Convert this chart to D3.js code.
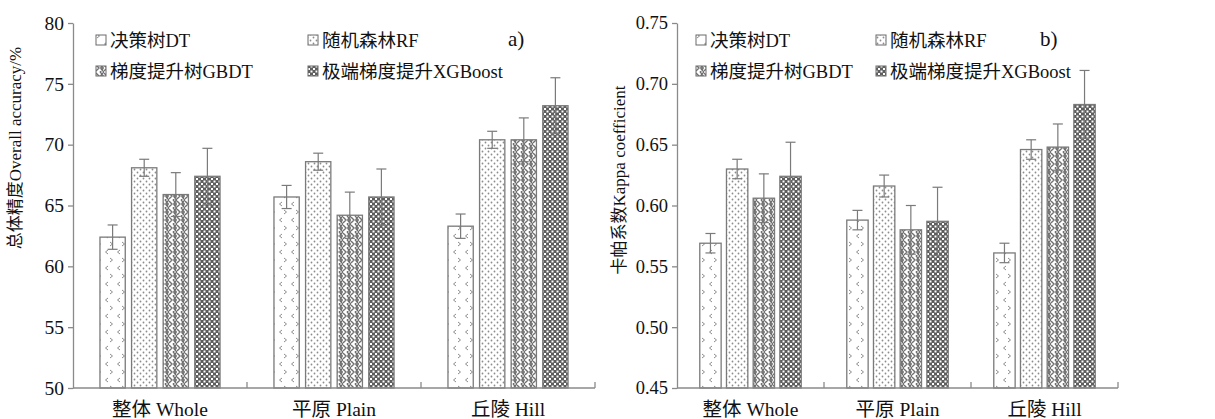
<!DOCTYPE html>
<html>
<head>
<meta charset="utf-8">
<script src="https://cdn.jsdelivr.net/npm/d3@7"></script>
<style>
  body { margin: 0; background: #fff; }
  svg { display: block; font-family: "Liberation Serif", "Noto Sans CJK SC", serif; }
</style>
</head>
<body>
<div id="chart"></div>
<script>
// categories and series
var categories = ["整体 Whole", "平原 Plain", "丘陵 Hill"];
var series = ["决策树DT", "随机森林RF", "梯度提升树GBDT", "极端梯度提升XGBoost"];

// panel a) overall accuracy (%), per series across categories
var accDT = [62.4, 65.7, 63.3];
var accRF = [68.1, 68.6, 70.4];
var accGBDT = [65.9, 64.2, 70.4];
var accXGB = [67.4, 65.7, 73.2];
var accErrDT = [1.0, 0.95, 1.0];
var accErrRF = [0.7, 0.7, 0.7];
var accErrGBDT = [1.8, 1.9, 1.8];
var accErrXGB = [2.3, 2.3, 2.3];
var accTicks = [50, 55, 60, 65, 70, 75, 80];

// panel b) kappa coefficient
var kapDT = [0.569, 0.588, 0.561];
var kapRF = [0.630, 0.616, 0.646];
var kapGBDT = [0.606, 0.580, 0.648];
var kapXGB = [0.624, 0.587, 0.683];
var kapErrDT = [0.008, 0.008, 0.008];
var kapErrRF = [0.008, 0.009, 0.008];
var kapErrGBDT = [0.020, 0.020, 0.019];
var kapErrXGB = [0.028, 0.028, 0.028];
var kapTicks = [0.45, 0.50, 0.55, 0.60, 0.65, 0.70, 0.75];

var width = 1215, height = 419;
var svg = d3.select("#chart").append("svg")
    .attr("width", width).attr("height", height);

var axisColor = "#8a8a8a";
var barStroke = "#7a7a7a";

// ---- patterns ----
var defs = svg.append("defs");

var pDT = defs.append("pattern").attr("id", "pat0")
    .attr("patternUnits", "userSpaceOnUse").attr("width", 12).attr("height", 16);
pDT.append("rect").attr("width", 12).attr("height", 16).attr("fill", "#fff");
pDT.append("path").attr("d", "M1,2 L3.5,4 L1,6 M11,10 L8.5,12 L11,14")
    .attr("fill", "none").attr("stroke", "#8c8c8c").attr("stroke-width", 1);

var pRF = defs.append("pattern").attr("id", "pat1")
    .attr("patternUnits", "userSpaceOnUse").attr("width", 6).attr("height", 6);
pRF.append("rect").attr("width", 6).attr("height", 6).attr("fill", "#fff");
pRF.append("circle").attr("cx", 1.5).attr("cy", 1.5).attr("r", 0.9).attr("fill", "#8c8c8c");
pRF.append("circle").attr("cx", 4.5).attr("cy", 4.5).attr("r", 0.9).attr("fill", "#8c8c8c");

// herringbone-like weave
var pGB = defs.append("pattern").attr("id", "pat2")
    .attr("patternUnits", "userSpaceOnUse").attr("width", 8).attr("height", 8);
pGB.append("rect").attr("width", 8).attr("height", 8).attr("fill", "#fff");
pGB.append("path").attr("d", "M0,1 L3,4 L0,7 M4,0 L7,3 M8,0 L5,3 M4,8 L7,5 M8,8 L5,5 M4,4 L8,4")
    .attr("fill", "none").attr("stroke", "#707070").attr("stroke-width", 1.4);

var pXG = defs.append("pattern").attr("id", "pat3")
    .attr("patternUnits", "userSpaceOnUse").attr("width", 5).attr("height", 5);
pXG.append("rect").attr("width", 5).attr("height", 5).attr("fill", "#5e5e5e");
pXG.append("rect").attr("x", 0.5).attr("y", 0.5).attr("width", 2).attr("height", 2).attr("fill", "#fff");
pXG.append("rect").attr("x", 3).attr("y", 3).attr("width", 2).attr("height", 2).attr("fill", "#fff");

function drawPanel(opt) {
    var g = svg.append("g");
    var x0 = d3.scaleBand().domain(categories).range([opt.left, opt.right]).padding(0);
    var gw = x0.bandwidth();
    var x1 = d3.scaleBand().domain(series)
        .range([gw * 0.155, gw * 0.845]).paddingInner(0.2);
    var y = d3.scaleLinear().domain(opt.domain).range([388, 23]);

    // y axis
    var yAxis = d3.axisLeft(y).tickValues(opt.ticks).tickFormat(opt.fmt)
        .tickSizeInner(5).tickSizeOuter(0).tickPadding(4);
    var ya = g.append("g").attr("transform", "translate(" + opt.left + ",0)").call(yAxis);
    ya.select(".domain").attr("stroke", axisColor).attr("stroke-width", 1.3);
    ya.selectAll(".tick line").attr("stroke", axisColor).attr("stroke-width", 1.3);
    ya.selectAll(".tick text").attr("fill", "#111").attr("font-size", opt.tickFont)
        .attr("font-family", "Liberation Serif");

    // bars
    var groups = g.selectAll(".grp").data(categories).join("g")
        .attr("transform", function (d) { return "translate(" + x0(d) + ",0)"; });

    series.forEach(function (s, si) {
        groups.append("rect")
            .attr("x", x1(s))
            .attr("y", function (d, i) { return y(opt.vals[si][i]); })
            .attr("width", x1.bandwidth())
            .attr("height", function (d, i) { return y(opt.domain[0]) - y(opt.vals[si][i]); })
            .attr("fill", "url(#pat" + si + ")")
            .attr("stroke", barStroke).attr("stroke-width", 1.3);

        var cx = x1(s) + x1.bandwidth() / 2;
        groups.append("line")
            .attr("x1", cx).attr("x2", cx)
            .attr("y1", function (d, i) { return y(opt.vals[si][i] + opt.errs[si][i]); })
            .attr("y2", function (d, i) { return y(opt.vals[si][i] - opt.errs[si][i]); })
            .attr("stroke", "#7a7a7a").attr("stroke-width", 1.2);
        [1, -1].forEach(function (sg) {
            groups.append("line")
                .attr("x1", cx - 5).attr("x2", cx + 5)
                .attr("y1", function (d, i) { return y(opt.vals[si][i] + sg * opt.errs[si][i]); })
                .attr("y2", function (d, i) { return y(opt.vals[si][i] + sg * opt.errs[si][i]); })
                .attr("stroke", "#7a7a7a").attr("stroke-width", 1.2);
        });
    });

    // x axis with upward ticks at category boundaries
    g.append("line").attr("x1", opt.left).attr("x2", opt.right)
        .attr("y1", 388).attr("y2", 388)
        .attr("stroke", axisColor).attr("stroke-width", 1.3);
    var bounds = categories.map(function (c) { return x0(c) + gw; });
    g.selectAll(".xt").data(bounds).join("line")
        .attr("x1", function (d) { return d; }).attr("x2", function (d) { return d; })
        .attr("y1", 388).attr("y2", 382)
        .attr("stroke", axisColor).attr("stroke-width", 1.3);
    g.selectAll(".xl").data(categories).join("text")
        .attr("x", function (d) { return x0(d) + gw / 2; })
        .attr("y", 416)
        .attr("text-anchor", "middle")
        .attr("font-size", 19.5).attr("fill", "#111")
        .text(function (d) { return d; });

    // y label
    g.append("text")
        .attr("transform", "translate(" + opt.ylabX + "," + opt.ylabY + ") rotate(-90)")
        .attr("text-anchor", "middle")
        .attr("font-size", 17).attr("fill", "#111")
        .text(opt.ylabel);

    // legend
    series.forEach(function (s, si) {
        var lx = opt.legX[si % 2], ly = si < 2 ? 40 : 71;
        g.append("rect").attr("x", lx).attr("y", ly - 5).attr("width", 10).attr("height", 10)
            .attr("fill", "url(#pat" + si + ")").attr("stroke", "#6a6a6a").attr("stroke-width", 1);
        g.append("text").attr("x", lx + 14).attr("y", ly + 7)
            .attr("font-size", 18.5).attr("fill", "#111").text(s);
    });

    g.append("text").attr("x", opt.tagX).attr("y", 46)
        .attr("font-size", 21).attr("fill", "#111").text(opt.tag);
}

drawPanel({
    left: 73, right: 595,
    domain: [50, 80], ticks: accTicks, fmt: d3.format("d"), tickFont: 19.5,
    vals: [accDT, accRF, accGBDT, accXGB],
    errs: [accErrDT, accErrRF, accErrGBDT, accErrXGB],
    ylabel: "总体精度Overall accuracy/%", ylabX: 21, ylabY: 148,
    legX: [96, 308], tag: "a)", tagX: 508
});

drawPanel({
    left: 677, right: 1118,
    domain: [0.45, 0.75], ticks: kapTicks, fmt: d3.format(".2f"), tickFont: 18.5,
    vals: [kapDT, kapRF, kapGBDT, kapXGB],
    errs: [kapErrDT, kapErrRF, kapErrGBDT, kapErrXGB],
    ylabel: "卡帕系数Kappa coefficient", ylabX: 625, ylabY: 180,
    legX: [696, 876], tag: "b)", tagX: 1040
});
</script>
</body>
</html>
